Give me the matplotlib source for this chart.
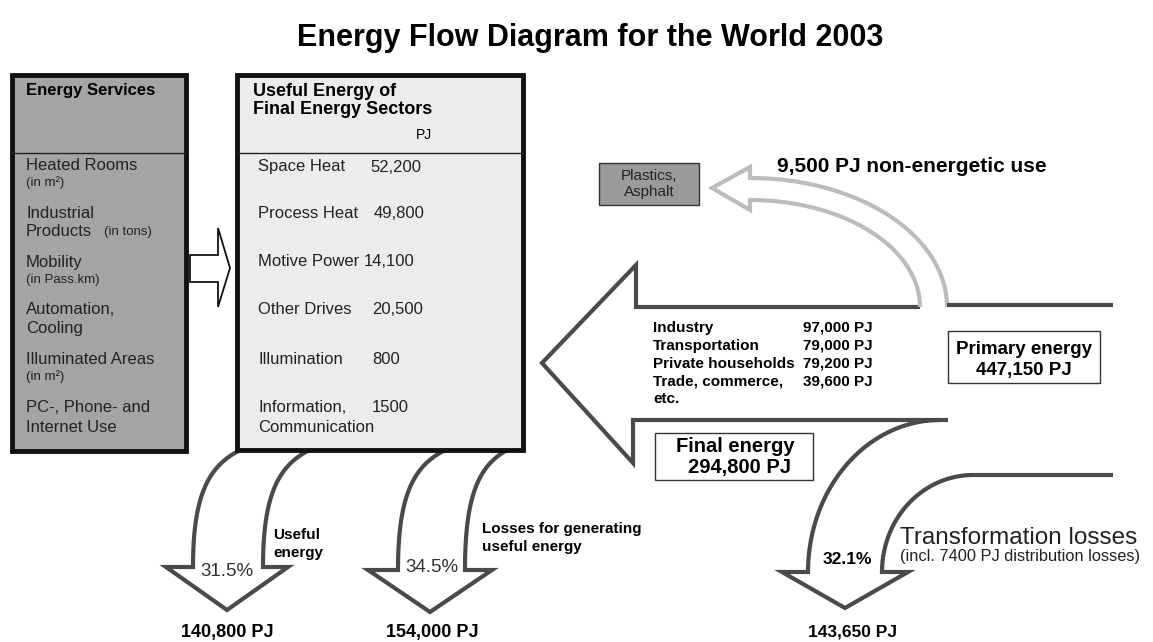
import matplotlib.pyplot as plt
import numpy as np
from matplotlib.patches import Rectangle, Polygon

plt.rcParams['font.family'] = ['Liberation Sans', 'DejaVu Sans']

# ---- data ----
title = "Energy Flow Diagram for the World 2003"

services = ["Heated Rooms", "Industrial\nProducts", "Mobility", "Automation,\nCooling",
            "Illuminated Areas", "PC-, Phone- and\nInternet Use"]
service_units = ["(in m²)", "(in tons)", "(in Pass.km)", "", "(in m²)", ""]

sectors = ["Space Heat", "Process Heat", "Motive Power", "Other Drives", "Illumination",
           "Information,\nCommunication"]
sector_pj = [52200, 49800, 14100, 20500, 800, 1500]

users = ["Industry", "Transportation", "Private households", "Trade, commerce,\netc."]
user_pj = [97000, 79000, 79200, 39600]

primary_pj = 447150
final_pj = 294800
non_energetic_pj = 9500
transformation_pj = 143650
distribution_pj = 7400
useful_pj = 140800
losses_pj = 154000
shares = [31.5, 34.5, 32.1]   # useful, losses, transformation


def pj(v):
    return f"{v:,}" if v >= 9000 else str(v)


fig = plt.figure(figsize=(11.53, 6.42), dpi=100)
ax = fig.add_axes([0, 0, 1, 1])
ax.set_xlim(0, 1153)
ax.set_ylim(642, 0)
ax.axis('off')

dark = '#4a4a4a'
light = '#bcbcbc'


def bez(p0, p1, p2, p3, n=40):
    t = np.linspace(0, 1, n)[:, None]
    p0, p1, p2, p3 = map(np.array, (p0, p1, p2, p3))
    return (1 - t)**3 * p0 + 3 * (1 - t)**2 * t * p1 + 3 * (1 - t) * t**2 * p2 + t**3 * p3


def arc(cx, cy, rx, ry, a0, a1, n=60):
    t = np.radians(np.linspace(a0, a1, n))
    return np.column_stack([cx + rx * np.cos(t), cy - ry * np.sin(t)])


def path(*parts, **kw):
    pts = np.vstack([np.asarray(p, dtype=float) for p in parts])
    ax.plot(pts[:, 0], pts[:, 1], solid_joinstyle='miter', solid_capstyle='butt', **kw)


ax.text(590, 38, title, ha='center', va='center', fontsize=22, fontweight='bold')

# ---- left box: energy services ----
ax.add_patch(Rectangle((12, 75), 174, 376, facecolor='#a4a4a4', edgecolor='#111', lw=3.5, zorder=3))
ax.plot([12, 186], [153, 153], color='#222', lw=1, zorder=4)
ax.text(26, 91, "Energy Services", fontsize=12, fontweight='bold', va='center', zorder=5)
svc_y = [166, 213, 263, 310, 360, 408]
for s, u, y in zip(services, service_units, svc_y):
    lines = s.split('\n')
    for i, ln in enumerate(lines):
        ax.text(26, y + 19 * i, ln, fontsize=12, va='center', color='#222', zorder=5)
    if u:
        if len(lines) > 1:
            ax.text(104, y + 19, u, fontsize=9.5, va='center', color='#222', zorder=5)
        else:
            ax.text(26, y + 17, u, fontsize=9.5, va='center', color='#222', zorder=5)

# hollow arrow between boxes
ax.add_patch(Polygon([(190, 255), (218, 255), (218, 228), (230, 268), (218, 307), (218, 282), (190, 282)],
                     closed=True, facecolor='white', edgecolor='#111', lw=1.3, zorder=3))

# ---- middle box: useful energy by sector ----
ax.add_patch(Rectangle((237, 75), 286, 375, facecolor='#ececec', edgecolor='#111', lw=3.5, zorder=3))
ax.plot([237, 523], [153, 153], color='#222', lw=1, zorder=4)
ax.text(253, 92, "Useful Energy of", fontsize=13, fontweight='bold', va='center', zorder=5)
ax.text(253, 110, "Final Energy Sectors", fontsize=13, fontweight='bold', va='center', zorder=5)
ax.text(424, 135, "PJ", fontsize=10, va='center', ha='center', zorder=5)
sec_y = [167, 214, 262, 310, 360, 408]
val_x = [370, 374, 364, 372, 372, 372]
for s, v, y, vx in zip(sectors, sector_pj, sec_y, val_x):
    for i, ln in enumerate(s.split('\n')):
        ax.text(258, y + 20 * i, ln, fontsize=12, va='center', color='#222', zorder=5)
    ax.text(vx, y, pj(v), fontsize=12, va='center', color='#222', zorder=5)


# ---- bottom-left down arrows ----
def down_arrow(xlt, xrt, xl, xr, hl, hr, tx, hy, ty):
    path(bez((xlt, 447), (xl + 0.33 * (xlt - xl), 462), (xl, 490), (xl, hy)),
         [(hl, hy), (tx, ty), (hr, hy)],
         bez((xr, hy), (xr, 490), (xr + 0.33 * (xrt - xr), 462), (xrt, 447)),
         color=dark, lw=3, zorder=2)


down_arrow(247, 316, 193, 263, 166, 288, 227, 567, 610)
down_arrow(452, 513, 398, 465, 368, 492, 430, 570, 612)

ax.text(227, 572, f"{shares[0]}%", fontsize=13.5, ha='center', va='center', color='#333')
ax.text(432, 567, f"{shares[1]}%", fontsize=13.5, ha='center', va='center', color='#333')
ax.text(273, 535, "Useful", fontsize=11, fontweight='bold', va='center')
ax.text(273, 553, "energy", fontsize=11, fontweight='bold', va='center')
ax.text(482, 529, "Losses for generating", fontsize=11, fontweight='bold', va='center')
ax.text(482, 547, "useful energy", fontsize=11, fontweight='bold', va='center')
ax.text(227, 632, f"{pj(useful_pj)} PJ", fontsize=13, fontweight='bold', ha='center', va='center')
ax.text(432, 632, f"{pj(losses_pj)} PJ", fontsize=13, fontweight='bold', ha='center', va='center')

# ---- big final-energy arrow with transformation-loss branch ----
path([(920, 307), (636, 307), (636, 265), (542, 363), (633, 463), (633, 420), (940, 420)],
     arc(940, 572, 132, 152, 90, 180),
     [(782, 572), (845, 608), (908, 572), (882, 572)],
     arc(973, 572, 91, 97, 180, 90),
     [(1113, 475)],
     color=dark, lw=3, zorder=2)
path([(940, 420), (948, 420)], color=dark, lw=3, zorder=2)

# non-energetic use branch (light grey)
path(arc(750, 307, 170, 107, 0, 90),
     [(750, 210), (712, 188), (750, 167), (750, 178)],
     arc(750, 307, 197, 129, 90, 0),
     color=light, lw=3, zorder=2)
# primary energy line
path([(947, 305), (1113, 305)], color=dark, lw=3, zorder=2)

ax.add_patch(Rectangle((599, 163), 100, 42, facecolor='#9a9a9a', edgecolor='#333', lw=1, zorder=3))
ax.text(649, 184, "Plastics,\nAsphalt", fontsize=11, ha='center', va='center', color='#222',
        linespacing=1.1, zorder=4)
ax.text(777, 167, f"{pj(non_energetic_pj)} PJ non-energetic use", fontsize=15,
        fontweight='bold', va='center')

user_y = [328, 346, 364, 382]
for u, v, y in zip(users, user_pj, user_y):
    for i, ln in enumerate(u.split('\n')):
        ax.text(653, y + 17 * i, ln, fontsize=11, fontweight='bold', va='center')
    ax.text(803, y, f"{pj(v)} PJ", fontsize=11, fontweight='bold', va='center')

ax.add_patch(Rectangle((948, 331), 152, 52, facecolor='white', edgecolor='#333', lw=1, zorder=3))
ax.text(1024, 350, "Primary energy", fontsize=13.5, fontweight='bold', ha='center', va='center', zorder=4)
ax.text(1024, 370, f"{pj(primary_pj)} PJ", fontsize=13.5, fontweight='bold', ha='center', va='center', zorder=4)

ax.add_patch(Rectangle((655, 433), 158, 47, facecolor='white', edgecolor='#333', lw=1, zorder=3))
ax.text(735, 447, "Final energy", fontsize=14.5, fontweight='bold', ha='center', va='center', zorder=4)
ax.text(740, 467, f"{pj(final_pj)} PJ", fontsize=14.5, fontweight='bold', ha='center', va='center', zorder=4)

ax.text(847, 560, f"{shares[2]}%", fontsize=12.5, fontweight='bold', ha='center', va='center')
ax.text(900, 538, "Transformation losses", fontsize=17.5, va='center', color='#222')
ax.text(900, 557, f"(incl. {distribution_pj} PJ distribution losses)", fontsize=11.8, va='center', color='#222')
ax.text(852, 632, f"{pj(transformation_pj)} PJ", fontsize=12.5, fontweight='bold', ha='center', va='center')

fig.savefig('out.png', dpi=100)
